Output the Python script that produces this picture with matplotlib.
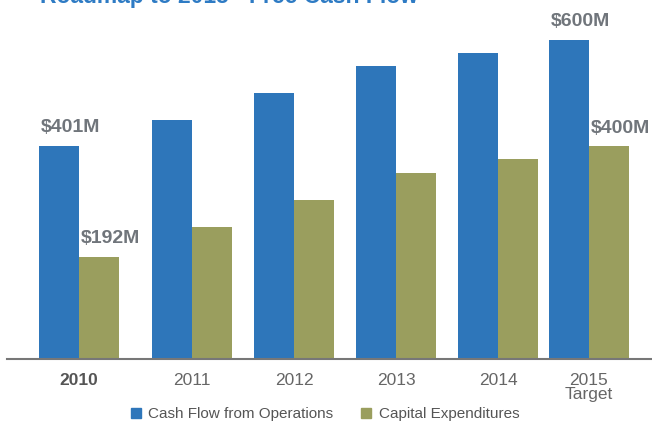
import matplotlib.pyplot as plt
from matplotlib.patches import Patch

plt.rcParams['font.family'] = ['Liberation Sans', 'DejaVu Sans']

# Data (in $M)
years = ["2010", "2011", "2012", "2013", "2014", "2015\nTarget"]
cash_flow = [401, 449, 500, 551, 575, 600]
capex = [192, 248, 299, 350, 376, 400]
value_labels = {0: ("$401M", "$192M"), 5: ("$600M", "$400M")}

blue = "#2E76BA"
olive = "#9A9E5E"
label_gray = "#70757B"

# group centres (the 2011 and 2015 groups sit slightly off the even grid)
group_x = [0, 1.108, 2.108, 3.108, 4.108, 5.0]
w = 0.39

fig = plt.figure(figsize=(6.52, 4.24), dpi=100)
ax = fig.add_axes([7 / 652, 1 - 359 / 424, 645 / 652, 359 / 424])

blue_x = [x - w / 2 for x in group_x]
olive_x = [x + w / 2 for x in group_x]
ax.bar(blue_x, cash_flow, width=w, color=blue)
ax.bar(olive_x, capex, width=w, color=olive)

# value labels, left aligned on the bars
for i, (lab_cf, lab_cx) in value_labels.items():
    ax.annotate(lab_cf, (blue_x[i] - w / 2, cash_flow[i]), xytext=(1, 7),
                textcoords="offset points", ha="left", va="bottom",
                fontsize=14, fontweight="bold", color=label_gray)
    ax.annotate(lab_cx, (olive_x[i] - w / 2, capex[i]), xytext=(1, 7),
                textcoords="offset points", ha="left", va="bottom",
                fontsize=14, fontweight="bold", color=label_gray)

ax.set_xlim(-0.706, 5.618)
ax.set_ylim(0, 675)
ax.set_yticks([])
ax.set_xticks(group_x)
ax.set_xticklabels(years, fontsize=12.5, color="#666666", linespacing=0.95)
ax.tick_params(axis="x", length=0, pad=10)
ax.get_xticklabels()[0].set_fontweight("bold")
ax.get_xticklabels()[0].set_color("#555555")

for s in ["top", "right", "left"]:
    ax.spines[s].set_visible(False)
ax.spines["bottom"].set_color("#777777")
ax.spines["bottom"].set_linewidth(1.5)

# title, mostly cut off at the top edge like the source
fig.text(40 / 652, 1 - 2.5 / 424, "Roadmap to 2015 - Free Cash Flow", ha="left",
         va="baseline", fontsize=16.5, fontweight="bold", color="#2E7BC4")

handles = [Patch(color=blue, label="Cash Flow from Operations"),
           Patch(color=olive, label="Capital Expenditures")]
fig.legend(handles=handles, loc="center", bbox_to_anchor=(0.4985, 1 - 414 / 424),
           ncol=2, frameon=False, fontsize=11, handlelength=0.65, handleheight=0.65,
           handletextpad=0.5, columnspacing=1.8, labelcolor="#555555",
           borderpad=0, borderaxespad=0)

fig.savefig("out.png", dpi=100)
